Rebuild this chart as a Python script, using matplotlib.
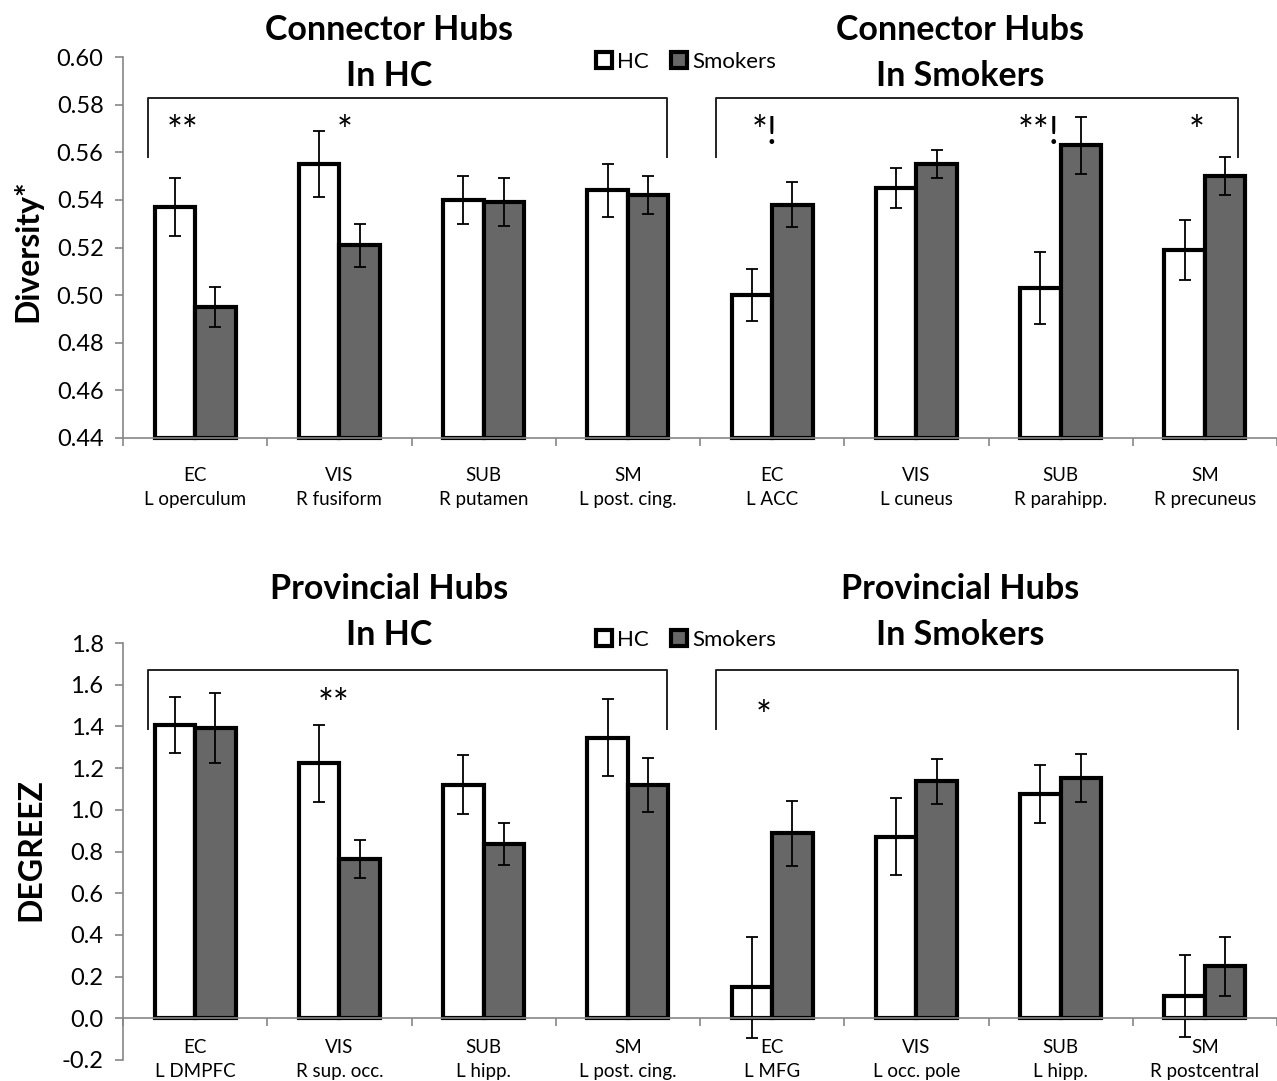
import numpy as np
import matplotlib
matplotlib.use("Agg")
import matplotlib.pyplot as plt
from matplotlib.patches import Patch

plt.rcParams['font.family'] = ['Lato', 'DejaVu Sans']
plt.rcParams['axes.unicode_minus'] = False

groups = ['EC', 'VIS', 'SUB', 'SM', 'EC', 'VIS', 'SUB', 'SM']

# connector hubs (participation / diversity)
conn_regions = ['L operculum', 'R fusiform', 'R putamen', 'L post. cing.',
                'L ACC', 'L cuneus', 'R parahipp.', 'R precuneus']
conn_hc = [0.537, 0.555, 0.540, 0.544, 0.500, 0.545, 0.503, 0.519]
conn_hc_err = [0.012, 0.014, 0.010, 0.011, 0.011, 0.0085, 0.015, 0.0125]
conn_sm = [0.495, 0.521, 0.539, 0.542, 0.538, 0.555, 0.563, 0.550]
conn_sm_err = [0.0085, 0.0090, 0.010, 0.008, 0.0095, 0.006, 0.012, 0.008]
conn_stars = [(-0.09, 0.568, '**'), (1.04, 0.568, '*'), (3.95, 0.568, '*!'),
              (5.85, 0.568, '**!'), (6.94, 0.568, '*')]

# provincial hubs (within-module degree z)
prov_regions = ['L DMPFC', 'R sup. occ.', 'L hipp.', 'L post. cing.',
                'L MFG', 'L occ. pole', 'L hipp.', 'R postcentral']
prov_hc = [1.406, 1.223, 1.120, 1.346, 0.148, 0.871, 1.075, 0.107]
prov_hc_err = [0.134, 0.186, 0.141, 0.186, 0.243, 0.186, 0.138, 0.195]
prov_sm = [1.391, 0.765, 0.836, 1.120, 0.887, 1.136, 1.152, 0.250]
prov_sm_err = [0.167, 0.092, 0.100, 0.130, 0.157, 0.110, 0.114, 0.141]
prov_stars = [(0.96, 1.497, '**'), (3.94, 1.441, '*')]

W, H = 1277, 1081
SMOKER_GREY = '#676767'
AXIS_GREY = '#868686'
BW = 0.28

fig = plt.figure(figsize=(W / 100, H / 100), dpi=100)
ax1 = fig.add_axes([123 / W, 1 - 438 / H, (W - 123) / W, (438 - 57) / H])
ax2 = fig.add_axes([123 / W, 1 - 1060 / H, (W - 123) / W, (1060 - 643) / H])
# provincial panel: category axis crosses at zero
ax2.spines['bottom'].set_position(('data', 0))


def draw(ax, hc, hc_err, sm, sm_err, base, regions, stars, br_lo, br_hi, label_pad):
    x = np.arange(len(hc))
    hc = np.asarray(hc); sm = np.asarray(sm)
    ax.bar(x - BW / 2, hc - base, BW, bottom=base, color='white',
           edgecolor='black', lw=3, zorder=2, clip_on=False)
    ax.bar(x + BW / 2, sm - base, BW, bottom=base, color=SMOKER_GREY,
           edgecolor='black', lw=3, zorder=2, clip_on=False)
    ax.errorbar(x - BW / 2, hc, yerr=hc_err, fmt='none', ecolor='black',
                elinewidth=1.3, capsize=4, capthick=1.3, zorder=3, clip_on=False)
    ax.errorbar(x + BW / 2, sm, yerr=sm_err, fmt='none', ecolor='black',
                elinewidth=1.3, capsize=4, capthick=1.3, zorder=3, clip_on=False)

    # group brackets
    for x0, x1 in [(-0.33, 3.27), (3.61, 7.23)]:
        ax.plot([x0, x0, x1, x1], [br_lo, br_hi, br_hi, br_lo],
                color='#222222', lw=1.4, zorder=1)
    for sx, sy, s in stars:
        ax.text(sx, sy, s, ha='center', va='center', fontsize=27)

    ax.set_xlim(-0.5, (W - 123) / 144.7 - 0.5)
    ax.set_xticks(x)
    ax.set_xticklabels([f"{g}\n{r}" for g, r in zip(groups, regions)],
                       fontsize=13.5, linespacing=1.5)
    ax.set_xticks(np.arange(-0.5, 8, 1.0), minor=True)
    ax.tick_params(axis='x', which='major', length=0, pad=label_pad)
    ax.tick_params(axis='x', which='minor', length=6, width=1.2,
                   color=AXIS_GREY, direction='out')
    ax.tick_params(axis='y', length=6, width=1.2, color=AXIS_GREY,
                   labelsize=17, pad=8)
    for side in ['top', 'right']:
        ax.spines[side].set_visible(False)
    for side in ['left', 'bottom']:
        ax.spines[side].set_color(AXIS_GREY)
        ax.spines[side].set_linewidth(1.2)
        ax.spines[side].set_zorder(4)


draw(ax1, conn_hc, conn_hc_err, conn_sm, conn_sm_err, 0.44, conn_regions,
     conn_stars, 0.558, 0.5828, 21)
ax1.set_ylim(0.44, 0.60)
ax1.set_yticks(np.arange(0.44, 0.601, 0.02))
ax1.set_yticklabels([f"{v:.2f}" for v in np.arange(0.44, 0.601, 0.02)])

draw(ax2, prov_hc, prov_hc_err, prov_sm, prov_sm_err, 0.0, prov_regions,
     prov_stars, 1.386, 1.672, 15)
ax2.set_ylim(-0.2, 1.8)
ax2.set_yticks(np.arange(-0.2, 1.81, 0.2))
ax2.set_yticklabels([f"{v:.1f}" for v in np.arange(-0.2, 1.81, 0.2)])

# panel titles
for y0, name in [(28, 'Connector Hubs'), (587, 'Provincial Hubs')]:
    fig.text(389 / W, 1 - (y0 + 25) / H, f"{name}\nIn HC", ha='center',
             va='center', fontsize=24.5, fontweight='bold', linespacing=1.53)
    fig.text(960 / W, 1 - (y0 + 25) / H, f"{name}\nIn Smokers", ha='center',
             va='center', fontsize=24.5, fontweight='bold', linespacing=1.53)

fig.text(27 / W, 1 - 251 / H, 'Diversity*', rotation=90, ha='center',
         va='center', fontsize=23, fontweight='bold')
fig.text(31 / W, 1 - 850 / H, 'DEGREEZ', rotation=90, ha='center',
         va='center', fontsize=23, fontweight='bold')

handles = [Patch(facecolor='white', edgecolor='black', lw=3, label='HC'),
           Patch(facecolor=SMOKER_GREY, edgecolor='black', lw=3, label='Smokers')]
for ly in [62, 640]:
    fig.legend(handles=handles, loc='center', bbox_to_anchor=(686 / W, 1 - ly / H),
               ncol=2, frameon=False, fontsize=16, handlelength=0.7,
               handleheight=0.7, handletextpad=0.25, columnspacing=1.0,
               borderpad=0)

fig.savefig('out.png', dpi=100)
